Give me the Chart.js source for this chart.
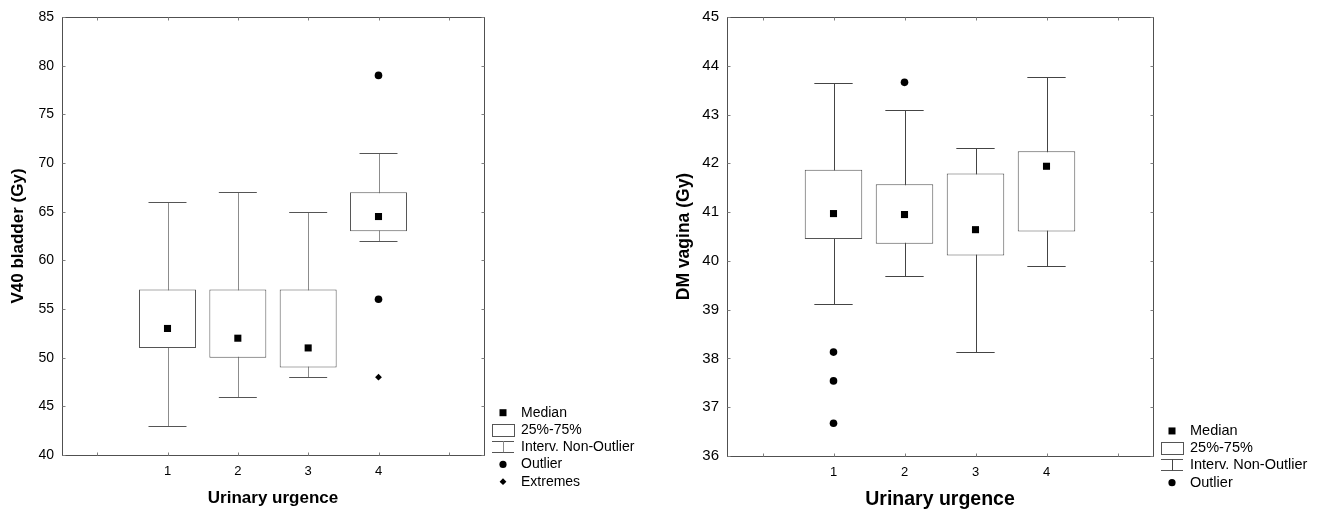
<!DOCTYPE html>
<html>
<head>
<meta charset="utf-8">
<title>Urinary urgence box plots</title>
<script src="https://cdn.jsdelivr.net/npm/chart.js@4.4.1/dist/chart.umd.min.js"></script>
<style>
  body { margin: 0; background: #fff; }
  .panel { position: absolute; top: 0; width: 660px; height: 511px; }
  #panelA { left: 0; }
  #panelB { left: 660px; }
</style>
</head>
<body>
<div class="panel" id="panelA"><canvas id="chartA" width="660" height="511"></canvas></div>
<div class="panel" id="panelB"><canvas id="chartB" width="660" height="511"></canvas></div>
<script>
// groups on the x axis
const categories = [1, 2, 3, 4];
const xTickLabels = ['1', '2', '3', '4'];
const xTickStops = [0, 1, 2, 3, 4, 5];

// left plot: V40 bladder (Gy)
const v40Q1 = [51, 50, 49, 63];
const v40Q3 = [57, 57, 57, 67];
const v40Median = [53, 52, 51, 64.5];
const v40Low = [43, 46, 48, 62];
const v40High = [66, 67, 65, 71];
const v40Outliers = [[], [], [], [79, 56]];
const v40Extremes = [[], [], [], [48]];
const v40Axis = [40, 85, 5];

// right plot: DM vagina (Gy)
const dmQ1 = [40.45, 40.35, 40.11, 40.60];
const dmQ3 = [41.87, 41.57, 41.79, 42.25];
const dmMedian = [40.97, 40.95, 40.64, 41.94];
const dmLow = [39.11, 39.68, 38.13, 39.89];
const dmHigh = [43.65, 43.09, 42.32, 43.76];
const dmOutliers = [[38.13, 37.54, 36.67], [43.66], [], []];
const dmAxis = [36, 45, 1];

const FONT = 'Liberation Sans, Arial, sans-serif';

function flatPoints(groups) {
  let pts = [];
  for (let i = 0; i < groups.length; i++) {
    for (let j = 0; j < groups[i].length; j++) {
      pts.push({x: categories[i], y: groups[i][j]});
    }
  }
  return pts;
}

// whiskers: stem + caps, drawn behind the boxes
function makeWhiskers(low, high, stemColor, capColor) {
  return {
    id: 'whiskers',
    beforeDatasetsDraw(chart) {
      const ctx = chart.ctx;
      const x = chart.scales.x, y = chart.scales.y;
      ctx.save();
      ctx.lineWidth = 1;
      for (let i = 0; i < categories.length; i++) {
        const cx = Math.round(x.getPixelForValue(categories[i])) + 0.5;
        const yLo = Math.round(y.getPixelForValue(low[i])) + 0.5;
        const yHi = Math.round(y.getPixelForValue(high[i])) + 0.5;
        const x0 = x.getPixelForValue(categories[i] - 0.27);
        const x1 = x.getPixelForValue(categories[i] + 0.27);
        ctx.strokeStyle = stemColor;
        ctx.beginPath();
        ctx.moveTo(cx, yLo);
        ctx.lineTo(cx, yHi);
        ctx.stroke();
        ctx.strokeStyle = capColor;
        ctx.beginPath();
        ctx.moveTo(x0, yLo); ctx.lineTo(x1, yLo);
        ctx.moveTo(x0, yHi); ctx.lineTo(x1, yHi);
        ctx.stroke();
      }
      ctx.restore();
    }
  };
}

// frame round the plot area with small inward ticks
const framePlugin = {
  id: 'frame',
  afterDatasetsDraw(chart) {
    const ctx = chart.ctx;
    const a = chart.chartArea;
    const x = chart.scales.x, y = chart.scales.y;
    const L = Math.round(a.left) + 0.5, R = Math.round(a.right) + 0.5;
    const T = Math.round(a.top) + 0.5, B = Math.round(a.bottom) + 0.5;
    ctx.save();
    ctx.strokeStyle = '#505050';
    ctx.lineWidth = 1;
    ctx.strokeRect(L, T, R - L, B - T);
    ctx.strokeStyle = '#808080';
    ctx.beginPath();
    y.ticks.forEach(t => {
      const py = Math.round(y.getPixelForValue(t.value)) + 0.5;
      ctx.moveTo(L, py); ctx.lineTo(L + 3, py);
      ctx.moveTo(R, py); ctx.lineTo(R - 3, py);
    });
    x.ticks.forEach(t => {
      const px = Math.round(x.getPixelForValue(t.value)) + 0.5;
      ctx.moveTo(px, T); ctx.lineTo(px, T + 3);
      ctx.moveTo(px, B); ctx.lineTo(px, B - 3);
    });
    ctx.stroke();
    ctx.restore();
  }
};

// key below right of the plot
function makeKey(items, fontSize, boxColor, stemColor) {
  return {
    id: 'boxKey',
    afterDraw(chart) {
      const ctx = chart.ctx;
      const a = chart.chartArea;
      const gx = a.right + 19;
      const tx = a.right + 37;
      const step = 17.25;
      ctx.save();
      ctx.font = fontSize + 'px ' + FONT;
      ctx.textBaseline = 'middle';
      ctx.textAlign = 'left';
      for (let i = 0; i < items.length; i++) {
        const gy = a.bottom + 26.7 - (items.length - 1 - i) * step;
        const kind = items[i][0];
        ctx.fillStyle = '#000';
        ctx.strokeStyle = boxColor;
        ctx.lineWidth = 1;
        if (kind === 'median') {
          ctx.fillRect(gx - 3.5, gy - 3.5, 7, 7);
        } else if (kind === 'box') {
          ctx.strokeRect(Math.round(gx - 11) + 0.5, Math.round(gy - 6) + 0.5, 22, 12);
        } else if (kind === 'whisker') {
          ctx.beginPath();
          ctx.moveTo(gx - 11, Math.round(gy - 6) + 0.5); ctx.lineTo(gx + 11, Math.round(gy - 6) + 0.5);
          ctx.moveTo(gx - 11, Math.round(gy + 5) + 0.5); ctx.lineTo(gx + 11, Math.round(gy + 5) + 0.5);
          ctx.stroke();
          ctx.strokeStyle = stemColor;
          ctx.beginPath();
          ctx.moveTo(Math.round(gx) + 0.5, gy - 6); ctx.lineTo(Math.round(gx) + 0.5, gy + 5);
          ctx.stroke();
        } else if (kind === 'outlier') {
          ctx.beginPath();
          ctx.arc(gx, gy, 3.6, 0, Math.PI * 2);
          ctx.fill();
        } else if (kind === 'extreme') {
          ctx.beginPath();
          ctx.moveTo(gx, gy - 3.4); ctx.lineTo(gx + 3.4, gy);
          ctx.lineTo(gx, gy + 3.4); ctx.lineTo(gx - 3.4, gy);
          ctx.closePath();
          ctx.fill();
        }
        ctx.fillStyle = '#000';
        ctx.fillText(items[i][1], tx, gy);
      }
      ctx.restore();
    }
  };
}

function boxChart(canvasId, s) {
  let datasets = [
    {
      type: 'bar',
      data: categories.map((c, i) => ({x: c, y: [s.q1[i], s.q3[i]]})),
      backgroundColor: '#fff',
      borderColor: s.boxColor,
      borderWidth: 1,
      borderSkipped: false,
      barPercentage: 0.81,
      categoryPercentage: 1,
      order: 3
    },
    {
      type: 'scatter',
      data: categories.map((c, i) => ({x: c, y: s.median[i]})),
      pointStyle: 'rect',
      radius: 5,
      backgroundColor: '#000',
      borderWidth: 0,
      order: 0
    },
    {
      type: 'scatter',
      data: flatPoints(s.outliers),
      pointStyle: 'circle',
      radius: 3.8,
      backgroundColor: '#000',
      borderWidth: 0,
      order: 1
    }
  ];
  if (s.extremes) {
    datasets.push({
      type: 'scatter',
      data: flatPoints(s.extremes),
      pointStyle: 'rectRot',
      radius: 3.4,
      backgroundColor: '#000',
      borderWidth: 0,
      order: 1
    });
  }

  return new Chart(document.getElementById(canvasId), {
    type: 'bar',
    data: {datasets: datasets},
    plugins: [makeWhiskers(s.low, s.high, s.stemColor, s.capColor), framePlugin,
              makeKey(s.key, s.keyFont, s.boxColor, s.stemColor)],
    options: {
      responsive: false,
      animation: false,
      devicePixelRatio: 1,
      layout: {padding: {top: s.padTop, right: s.padRight, bottom: 0, left: 0}},
      plugins: {legend: {display: false}, tooltip: {enabled: false}},
      scales: {
        x: {
          type: 'linear',
          min: -0.5,
          max: 5.5,
          offset: false,
          afterBuildTicks: sc => { sc.ticks = xTickStops.map(v => ({value: v})); },
          afterFit: sc => { sc.height = s.xHeight; },
          ticks: {
            autoSkip: false,
            maxRotation: 0,
            padding: 9,
            color: '#000',
            font: {family: FONT, size: 13},
            callback: v => {
              const k = categories.indexOf(v);
              return k >= 0 ? xTickLabels[k] : '';
            }
          },
          grid: {display: false, drawTicks: false},
          border: {display: false},
          title: {
            display: true,
            text: 'Urinary urgence',
            color: '#000',
            font: {family: FONT, size: s.xTitleSize, weight: 'bold'},
            padding: {top: 0, bottom: s.xTitlePad}
          }
        },
        y: {
          type: 'linear',
          min: s.axis[0],
          max: s.axis[1],
          beginAtZero: false,
          afterFit: sc => { sc.width = s.yWidth; },
          ticks: {
            stepSize: s.axis[2],
            padding: 8,
            color: '#000',
            font: {family: FONT, size: s.yTickSize}
          },
          grid: {display: false, drawTicks: false},
          border: {display: false},
          title: {
            display: true,
            text: s.yTitle,
            color: '#000',
            font: {family: FONT, size: s.yTitleSize, weight: 'bold'},
            padding: {top: s.yTitlePad, bottom: 0}
          }
        }
      }
    }
  });
}

boxChart('chartA', {
  q1: v40Q1, q3: v40Q3, median: v40Median, low: v40Low, high: v40High,
  outliers: v40Outliers, extremes: v40Extremes, axis: v40Axis,
  yTitle: 'V40 bladder (Gy)',
  boxColor: '#555', stemColor: '#8c8c8c', capColor: '#555',
  padTop: 17, padRight: 176, xHeight: 56, yWidth: 62,
  xTitleSize: 17, xTitlePad: 2, yTitleSize: 17, yTitlePad: 8, yTickSize: 14,
  keyFont: 14,
  key: [['median', 'Median'], ['box', '25%-75%'], ['whisker', 'Interv. Non-Outlier'],
        ['outlier', 'Outlier'], ['extreme', 'Extremes']]
});

boxChart('chartB', {
  q1: dmQ1, q3: dmQ3, median: dmMedian, low: dmLow, high: dmHigh,
  outliers: dmOutliers, extremes: null, axis: dmAxis,
  yTitle: 'DM vagina (Gy)',
  boxColor: '#555', stemColor: '#444', capColor: '#444',
  padTop: 13, padRight: 167, xHeight: 55, yWidth: 67,
  xTitleSize: 19.5, xTitlePad: 0, yTitleSize: 17.5, yTitlePad: 14, yTickSize: 15,
  keyFont: 14.5,
  key: [['median', 'Median'], ['box', '25%-75%'], ['whisker', 'Interv. Non-Outlier'],
        ['outlier', 'Outlier']]
});
</script>
</body>
</html>
